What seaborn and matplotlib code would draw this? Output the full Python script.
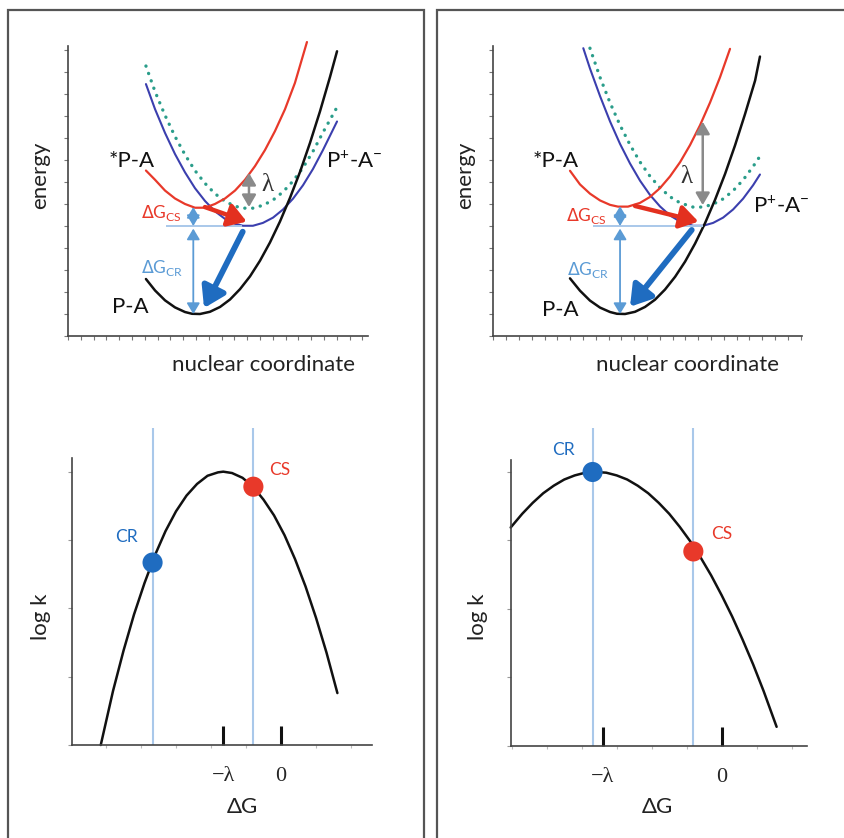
import matplotlib
matplotlib.use("Agg")

import numpy as np
import pandas as pd
import matplotlib.pyplot as plt
import seaborn as sns
from matplotlib.patches import Rectangle

# ===============================
# style / fonts
# ===============================
sns.set_style("white")
plt.rcParams['font.family'] = ['Lato', 'DejaVu Sans']
plt.rcParams['mathtext.fontset'] = 'dejavusans'

W, H = 844, 838

# ===============================
# data: top-left (energy curves, normal region)
# ===============================
tl_pa_x = [6.09, 6.80, 7.58, 8.36, 9.14, 9.69, 10.31, 11.09, 11.88, 12.66, 13.44, 14.22,
           15.00, 15.78, 16.56, 17.34, 18.13, 18.91, 19.69, 20.47, 21.02]
tl_pa_y = [2.59, 2.07, 1.62, 1.30, 1.09, 1.01, 1.00, 1.10, 1.32, 1.66, 2.13, 2.71,
           3.42, 4.25, 5.20, 6.27, 7.46, 8.78, 10.21, 11.77, 12.94]
tl_star_x = [6.09, 6.80, 7.58, 8.36, 9.14, 9.92, 10.70, 11.48, 12.27, 13.05, 13.83, 14.61,
             15.39, 16.17, 16.95, 17.73, 18.67]
tl_star_y = [7.52, 7.10, 6.61, 6.25, 6.00, 5.83, 5.83, 6.00, 6.25, 6.61, 7.10, 7.72,
             8.45, 9.31, 10.30, 11.50, 13.36]
tl_ion_x = [6.09, 6.80, 7.58, 8.36, 9.14, 9.92, 10.70, 11.48, 12.27, 13.05, 13.67, 14.45,
            15.23, 16.02, 16.80, 17.58, 18.36, 19.14, 19.92, 21.02]
tl_ion_y = [11.45, 10.31, 9.23, 8.27, 7.44, 6.72, 6.14, 5.67, 5.32, 5.10, 5.01, 5.01,
            5.14, 5.38, 5.75, 6.24, 6.85, 7.59, 8.45, 9.75]
tl_dot_x = tl_ion_x
tl_dot_y = [12.27, 11.11, 10.03, 9.07, 8.24, 7.52, 6.94, 6.47, 6.12, 5.90, 5.81, 5.81,
            5.94, 6.18, 6.55, 7.04, 7.65, 8.39, 9.25, 10.40]
tl_levels = [5.86, 5.00, 1.00]          # *P-A min, P+A- min, P-A min
tl_dg_x = 9.79
tl_hline = [7.66, 13.57]
tl_lam = [14.14, 7.41, 5.86]             # x, top, bottom
tl_cs_arrow = [(10.70, 5.86), (13.96, 5.20)]
tl_cr_arrow = [(13.65, 4.74), (10.63, 1.27)]

# ===============================
# data: top-right (energy curves, inverted region)
# ===============================
tr_pa_x = [5.99, 6.77, 7.55, 8.34, 9.12, 9.66, 10.29, 11.07, 11.85, 12.63, 13.41, 14.20,
           14.98, 15.76, 16.54, 17.32, 18.10, 18.88, 19.66, 20.45, 20.83]
tr_pa_y = [2.62, 2.06, 1.61, 1.29, 1.09, 1.01, 1.00, 1.10, 1.32, 1.65, 2.11, 2.69,
           3.38, 4.20, 5.13, 6.19, 7.36, 8.66, 10.08, 11.61, 12.70]
tr_star_x = [5.99, 6.77, 7.55, 8.34, 9.12, 9.74, 10.52, 11.46, 12.24, 13.02, 13.80, 14.59,
             15.37, 16.15, 16.93, 17.71, 18.49]
tr_star_y = [7.51, 6.89, 6.47, 6.16, 5.96, 5.88, 5.88, 6.05, 6.32, 6.72, 7.25, 7.90,
             8.68, 9.58, 10.61, 11.76, 13.05]
tr_ion_x = [7.03, 7.55, 8.34, 9.12, 9.90, 10.68, 11.46, 12.24, 13.02, 13.80, 14.59, 15.60,
            16.39, 17.17, 17.95, 18.73, 19.51, 20.29, 20.83]
tr_ion_y = [13.08, 12.16, 10.90, 9.75, 8.73, 7.84, 7.06, 6.41, 5.89, 5.48, 5.20, 5.01,
            5.01, 5.14, 5.38, 5.75, 6.24, 6.85, 7.34]
tr_dot_x = [7.55, 8.34, 9.12, 9.90, 10.68, 11.46, 12.24, 13.02, 13.80, 14.59, 15.60, 16.39,
            17.17, 17.95, 18.73, 19.51, 20.29, 20.83]
tr_dot_y = [13.08, 11.75, 10.60, 9.58, 8.69, 7.91, 7.26, 6.74, 6.33, 6.05, 5.86, 5.86,
            5.99, 6.23, 6.60, 7.09, 7.70, 8.17]
tr_levels = [5.90, 5.00, 1.00]
tr_dg_x = 9.90
tr_hline = [7.79, 16.38]
tr_lam = [16.36, 9.74, 5.95]
tr_cs_arrow = [(11.07, 5.91), (16.02, 5.20)]
tr_cr_arrow = [(15.50, 4.82), (10.68, 1.33)]

# ===============================
# data: bottom panels (log k vs dG)
# ===============================
bl_dg = [-5.15, -4.8, -4.5, -4.2, -3.9, -3.6, -3.3, -3.0, -2.7, -2.4, -2.1, -1.8, -1.65,
         -1.4, -1.1, -0.8, -0.5, -0.2, 0.1, 0.4, 0.7, 1.0, 1.3, 1.61]
bl_logk = [0.0, 0.79, 1.38, 1.91, 2.37, 2.78, 3.13, 3.42, 3.65, 3.82, 3.94, 3.99, 4.00,
           3.98, 3.91, 3.78, 3.59, 3.36, 3.07, 2.72, 2.32, 1.86, 1.35, 0.76]
bl_pts_dg = [-3.67, -0.79]     # CR, CS
bl_pts_logk = [2.67, 3.78]
bl_lambda = -1.65

br_dg = [-6.03, -5.7, -5.4, -5.1, -4.8, -4.5, -4.2, -3.9, -3.6, -3.3, -3.0, -2.7, -2.4,
         -2.1, -1.8, -1.5, -1.2, -0.9, -0.6, -0.3, 0.0, 0.3, 0.6, 0.9, 1.2, 1.57]
br_logk = [3.19, 3.39, 3.55, 3.69, 3.80, 3.89, 3.95, 3.99, 4.00, 3.99, 3.95, 3.89, 3.80,
           3.69, 3.55, 3.39, 3.20, 2.99, 2.75, 2.49, 2.20, 1.89, 1.55, 1.19, 0.80, 0.28]
br_pts_dg = [-3.69, -0.81]
br_pts_logk = [4.00, 2.84]
br_lambda = -3.4

pt_labels = ["CR", "CS"]

# colours
RED = "#e8392a"
BLUE = "#3b3fae"
TEAL = "#2a9d8a"
LBLUE = "#a9c8ea"
MBLUE = "#5b9bd5"
DBLUE = "#1f6cc0"
GRAY = "#8a8a8a"
SERIF = ['Liberation Serif', 'DejaVu Serif']


def px_ax(x0, x1, ytop, ybot):
    return fig.add_axes([x0 / W, 1 - ybot / H, (x1 - x0) / W, (ybot - ytop) / H])


def style_axes(ax):
    for s in ["top", "right"]:
        ax.spines[s].set_visible(False)
    for s in ["left", "bottom"]:
        ax.spines[s].set_color("#444444")
        ax.spines[s].set_linewidth(1.2)


def arrow(ax, a, b, color, lw, style, ms):
    ax.annotate("", xy=b, xytext=a, annotation_clip=False,
                arrowprops=dict(arrowstyle=style, color=color, lw=lw,
                                mutation_scale=ms, shrinkA=0, shrinkB=0))


def energy_panel(ax, pa, star, ion, dot, levels, dg_x, hline, lam, cs_arr, cr_arr, xmax):
    sns.lineplot(x=dot[0], y=dot[1], ax=ax, color=TEAL, lw=2.4, sort=False,
                 estimator=None, linestyle=(0, (0.05, 2.3)), dash_capstyle="round", clip_on=False)
    sns.lineplot(x=ion[0], y=ion[1], ax=ax, color=BLUE, lw=1.5, sort=False, estimator=None, clip_on=False)
    sns.lineplot(x=star[0], y=star[1], ax=ax, color=RED, lw=1.6, sort=False, estimator=None, clip_on=False)
    sns.lineplot(x=pa[0], y=pa[1], ax=ax, color="#111111", lw=1.8, sort=False, estimator=None, clip_on=False)
    ax.hlines(levels[1], hline[0], hline[1], color=LBLUE, lw=1.4)
    arrow(ax, (dg_x, levels[1]), (dg_x, levels[0]), MBLUE, 1.3, "<|-|>,head_length=0.5,head_width=0.3", 13)
    arrow(ax, (dg_x, levels[1] - 0.12), (dg_x, levels[2]), MBLUE, 1.3, "<|-|>,head_length=0.5,head_width=0.3", 13)
    arrow(ax, (lam[0], lam[1]), (lam[0], lam[2]), GRAY, 1.8, "<|-|>,head_length=0.6,head_width=0.35", 12)
    arrow(ax, cs_arr[0], cs_arr[1], "#e3301f", 3.2, "-|>,head_length=0.55,head_width=0.35", 20)
    arrow(ax, cr_arr[0], cr_arr[1], DBLUE, 4.2, "-|>,head_length=0.55,head_width=0.35", 22)
    ax.set_xlim(0, xmax)
    ax.set_ylim(0, 13.18)
    ax.set_xticks(np.arange(0, int(xmax) + 1))
    ax.set_yticks(np.arange(0, 14))
    ax.set_xticklabels([])
    ax.set_yticklabels([])
    ax.tick_params(axis="both", direction="out", length=3, width=0.8, color="#777777",
                   bottom=True, left=True)
    ax.set_xlabel("")
    ax.set_ylabel("")
    style_axes(ax)


def rate_panel(ax, dg, logk, pdg, plogk, lam, xlim, ylim):
    ax.vlines(pdg, 0, 4.64, color=LBLUE, lw=1.5, clip_on=False)
    sns.lineplot(x=dg, y=logk, ax=ax, color="#111111", lw=1.8, sort=False, estimator=None, clip_on=False)
    sns.scatterplot(x=pdg, y=plogk, hue=pt_labels, palette={"CR": DBLUE, "CS": RED},
                    s=210, edgecolor="none", ax=ax, legend=False, zorder=5, clip_on=False)
    ax.set_xlim(*xlim)
    ax.set_ylim(*ylim)
    ax.set_xticks([lam, 0])
    ax.set_xticklabels(["\u2212\u03bb", "0"], family=SERIF, fontsize=16)
    ax.set_xticks(np.arange(int(np.ceil(xlim[0])), int(xlim[1]) + 1), minor=True)
    ax.set_yticks(np.arange(0, 5))
    ax.set_yticklabels([])
    ax.tick_params(axis="x", which="major", direction="in", length=14, width=2.2,
                   color="#111111", pad=16, bottom=True)
    ax.tick_params(axis="x", which="minor", direction="out", length=2.5, width=0.8,
                   color="#bbbbbb", bottom=True)
    ax.tick_params(axis="y", direction="out", length=3, width=0.8, color="#999999", left=True)
    ax.set_xlabel("")
    ax.set_ylabel("")
    style_axes(ax)


fig = plt.figure(figsize=(W / 100, H / 100), dpi=100)

# panel frames
fig.patches.append(Rectangle((8 / W, -0.02), 416 / W, 1.02 - 10 / H, transform=fig.transFigure,
                             fill=False, edgecolor="#555555", lw=1.6))
fig.patches.append(Rectangle((437 / W, -0.02), 0.6, 1.02 - 10 / H, transform=fig.transFigure,
                             fill=False, edgecolor="#555555", lw=1.6))

ax1 = px_ax(68, 368, 46, 336)
energy_panel(ax1, (tl_pa_x, tl_pa_y), (tl_star_x, tl_star_y), (tl_ion_x, tl_ion_y),
             (tl_dot_x, tl_dot_y), tl_levels, tl_dg_x, tl_hline, tl_lam,
             tl_cs_arrow, tl_cr_arrow, 23.44)
ax2 = px_ax(493.3, 801.7, 46, 336)
energy_panel(ax2, (tr_pa_x, tr_pa_y), (tr_star_x, tr_star_y), (tr_ion_x, tr_ion_y),
             (tr_dot_x, tr_dot_y), tr_levels, tr_dg_x, tr_hline, tr_lam,
             tr_cs_arrow, tr_cr_arrow, 24.09)
ax3 = px_ax(71.7, 371.7, 458, 745)
rate_panel(ax3, bl_dg, bl_logk, bl_pts_dg, bl_pts_logk, bl_lambda, (-5.98, 2.59), (0, 4.2))
ax4 = px_ax(510.7, 806.7, 460, 746)
rate_panel(ax4, br_dg, br_logk, br_pts_dg, br_pts_logk, br_lambda, (-6.03, 2.43), (0, 4.175))

# ===============================
# labels on the energy panels
# ===============================
fs = 16
for ax, s, p, l, cs, cr, pa in [
    (ax1, (5.0, 7.95), (22.4, 7.92), (15.6, 6.86), (8.9, 5.59), (8.98, 3.09), (4.84, 1.33)),
    (ax2, (4.9, 7.95), (22.48, 5.88), (15.1, 7.24), (8.88, 5.47), (9.1, 3.0), (5.2, 1.18)),
]:
    ax.text(*s, "*P-A", fontsize=fs, ha="center", va="center", color="#111111")
    ax.text(*p, r"P$^{\mathregular{+}}$-A$^{\mathregular{-}}$", fontsize=fs, ha="center",
            va="center", color="#111111", clip_on=False)
    ax.text(*l, "\u03bb", fontsize=18, ha="center", va="center", color="#333333", family=SERIF)
    ax.text(*cs, r"$\Delta$G$_{\mathregular{CS}}$", fontsize=12.5, ha="right", va="center", color=RED)
    ax.text(*cr, r"$\Delta$G$_{\mathregular{CR}}$", fontsize=12.5, ha="right", va="center", color=MBLUE)
    ax.text(*pa, "P-A", fontsize=fs, ha="center", va="center", color="#111111")

for ax, cr, cs in [(ax3, (-4.41, 3.05), (-0.03, 4.03)), (ax4, (-4.53, 4.32), (0.0, 3.1))]:
    ax.text(*cr, "CR", fontsize=12.5, ha="center", va="center", color=DBLUE, clip_on=False)
    ax.text(*cs, "CS", fontsize=12.5, ha="center", va="center", color=RED, clip_on=False)


def ftext(px, py, s, **kw):
    fig.text(px / W, 1 - py / H, s, ha="center", va="center", color="#222222", **kw)


ftext(40, 175, "energy", fontsize=16, rotation=90)
ftext(465, 175, "energy", fontsize=16, rotation=90)
ftext(264, 365, "nuclear coordinate", fontsize=16)
ftext(688, 365, "nuclear coordinate", fontsize=16)
ftext(41, 617, "log k", fontsize=16, rotation=90)
ftext(478, 617, "log k", fontsize=16, rotation=90)
ftext(242, 807, "\u0394G", fontsize=16)
ftext(657, 807, "\u0394G", fontsize=16)

plt.savefig("out.png", dpi=100)
plt.close()
